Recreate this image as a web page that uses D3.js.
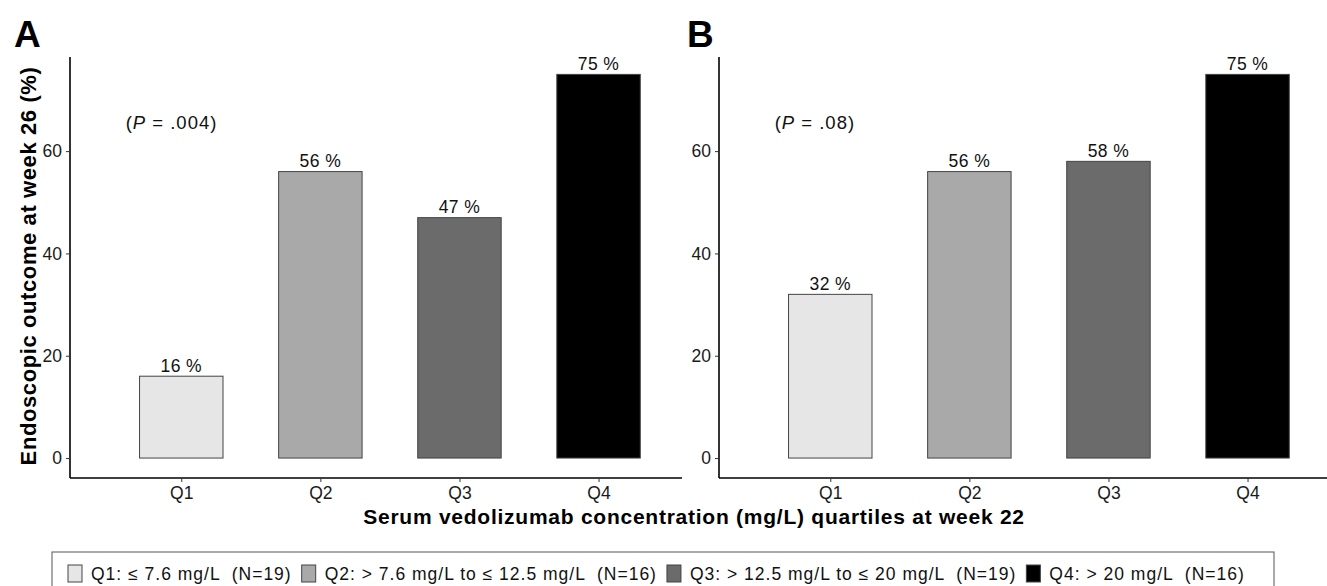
<!DOCTYPE html>
<html>
<head>
<meta charset="utf-8">
<script src="https://cdn.jsdelivr.net/npm/d3@7"></script>
<style>
  body { margin: 0; background: #fff; }
  svg text { font-family: "Liberation Sans", Arial, sans-serif; }
</style>
</head>
<body>
<div id="chart"></div>
<script>
const categories = ["Q1", "Q2", "Q3", "Q4"];
const valuesA = [16, 56, 47, 75];
const valuesB = [32, 56, 58, 75];
const pValues = ["(P = .004)", "(P = .08)"];
const panelLabels = ["A", "B"];
const yTicks = [0, 20, 40, 60];
const fills = ["#e6e6e6", "#a9a9a9", "#6b6b6b", "#000000"];
const legendLabels = [
  "Q1: \u2264 7.6 mg/L  (N=19)",
  "Q2: > 7.6 mg/L to \u2264 12.5 mg/L  (N=16)",
  "Q3: > 12.5 mg/L to \u2264 20 mg/L  (N=19)",
  "Q4: > 20 mg/L  (N=16)"
];

const W = 1327, H = 586;
const svg = d3.select('#chart').append('svg')
  .attr('width', W).attr('height', H);

const y = d3.scaleLinear().domain([-3.9, 78.4]).range([478, 57]);

function drawPanel(values, left, letter, ptext) {
  // position in discrete units, Q1 = 1
  const x = d3.scaleLinear().domain([0.2, 4.6]).range([left, left + 612]);
  const bw = (x(2) - x(1)) * 0.6;
  const g = svg.append('g');

  g.selectAll('rect.bar')
    .data(values)
    .enter().append('rect')
    .attr('class', 'bar')
    .attr('x', (d, i) => x(i + 1) - bw / 2)
    .attr('y', d => y(d))
    .attr('width', bw)
    .attr('height', d => y(0) - y(d))
    .attr('fill', (d, i) => fills[i])
    .attr('stroke', '#444')
    .attr('stroke-width', 1);

  g.selectAll('text.lab')
    .data(values)
    .enter().append('text')
    .attr('class', 'lab')
    .attr('x', (d, i) => x(i + 1))
    .attr('y', d => y(d) - 4.5)
    .attr('text-anchor', 'middle')
    .attr('font-size', 17.5)
    .attr('letter-spacing', 0.4)
    .attr('fill', '#111')
    .text(d => d + ' %');

  // y axis
  const yAxis = d3.axisLeft(y).tickValues(yTicks).tickSize(4).tickPadding(4);
  const ya = g.append('g').attr('transform', `translate(${left},0)`).call(yAxis);
  ya.select('.domain').attr('stroke', '#000').attr('stroke-width', 1.6)
    .attr('d', `M0,${y.range()[1]}V${y.range()[0]}`);
  ya.selectAll('.tick line').attr('stroke', '#333');
  ya.selectAll('.tick text').attr('font-size', 17.5).attr('fill', '#1a1a1a');

  // x axis
  const xAxis = d3.axisBottom(x).tickValues([1, 2, 3, 4])
    .tickFormat(d => categories[d - 1]).tickSize(4).tickPadding(5);
  const xa = g.append('g').attr('transform', `translate(0,${y.range()[0]})`).call(xAxis);
  xa.select('.domain').attr('stroke', '#000').attr('stroke-width', 1.6)
    .attr('d', `M${left},0H${left + 612}`);
  xa.selectAll('.tick line').attr('stroke', '#333');
  xa.selectAll('.tick text').attr('font-size', 17.5).attr('fill', '#1a1a1a');

  // p value annotation
  const pt = g.append('text')
    .attr('x', x(0.6))
    .attr('y', y(65) + 3.5)
    .attr('font-size', 18.5)
    .attr('letter-spacing', 1)
    .attr('fill', '#111');
  const m = ptext.match(/^\((P)(.*)$/);
  pt.append('tspan').text('(');
  pt.append('tspan').attr('font-style', 'italic').text(m[1]);
  pt.append('tspan').text(m[2]);

  svg.append('text')
    .attr('x', letter === 'A' ? 14 : 687)
    .attr('y', 47)
    .attr('font-size', 37)
    .attr('font-weight', 'bold')
    .text(letter);
}

drawPanel(valuesA, 70, panelLabels[0], pValues[0]);
drawPanel(valuesB, 719, panelLabels[1], pValues[1]);

// axis titles
svg.append('text')
  .attr('transform', 'translate(36,266) rotate(-90)')
  .attr('text-anchor', 'middle')
  .attr('font-size', 22)
  .attr('letter-spacing', 0.6)
  .attr('font-weight', 'bold')
  .text('Endoscopic outcome at week 26 (%)');

svg.append('text')
  .attr('x', 694)
  .attr('y', 524)
  .attr('text-anchor', 'middle')
  .attr('font-size', 21)
  .attr('letter-spacing', 0.75)
  .attr('font-weight', 'bold')
  .text('Serum vedolizumab concentration (mg/L) quartiles at week 22');

// legend
const lg = svg.append('g');
lg.append('rect')
  .attr('x', 52).attr('y', 552).attr('width', 1222).attr('height', 45)
  .attr('fill', 'none').attr('stroke', '#555').attr('stroke-width', 1);

let cx = 68;
legendLabels.forEach((lab, i) => {
  lg.append('rect')
    .attr('x', cx).attr('y', 565).attr('width', 14).attr('height', 17)
    .attr('fill', fills[i]).attr('stroke', '#444').attr('stroke-width', 1);
  const t = lg.append('text')
    .attr('x', cx + 23).attr('y', 580)
    .attr('font-size', 17.5)
    .attr('letter-spacing', 1)
    .attr('fill', '#111')
    .style('white-space', 'pre')
    .text(lab);
  cx = cx + 23 + t.node().getComputedTextLength() + 10;
});
</script>
</body>
</html>
